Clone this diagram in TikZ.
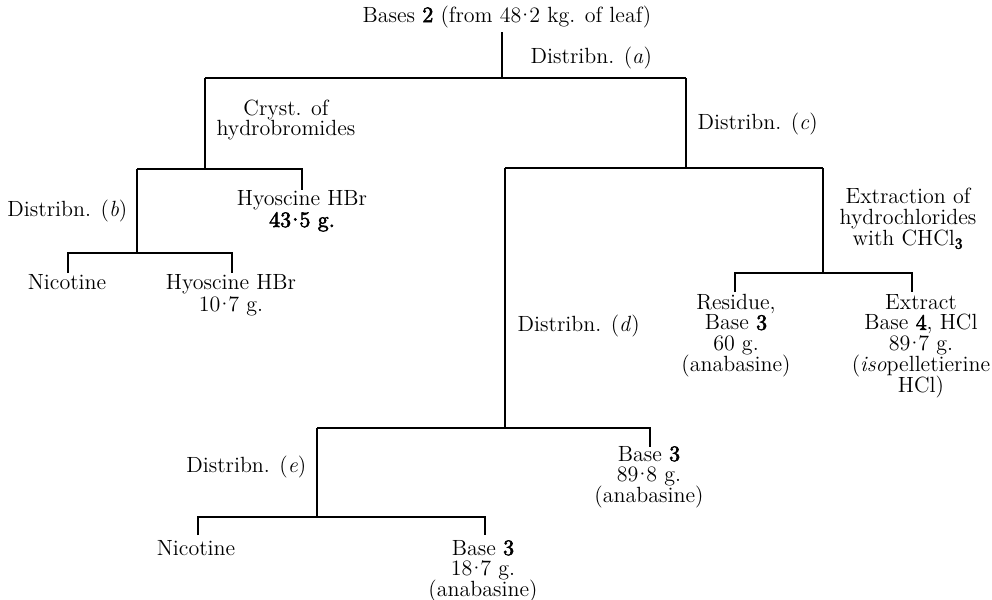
\documentclass[tikz,border=0pt]{standalone}
\usepackage{fontspec}
\newfontfamily\fbold{lmroman10-regular}[Extension=.otf,FakeBold=2.5]
\newcommand\bnum[1]{{\fbold #1}}
\newcommand\ctext[1]{\vtop{\lineskiplimit=-20pt\relax\lineskip=0pt\relax\halign{\hfil##\hfil\cr#1\crcr}}}
\newcommand\decpt{\kern-0.2em·\kern-0.2em}
\begin{document}
\begin{tikzpicture}[x=0.5pt,y=-0.5pt,line width=0.7pt,
  lbl/.style={inner sep=0pt,font=\fontsize{11}{10.4}\selectfont},
  pitch/.style={font=\fontsize{11}{#1}\selectfont}]
\useasboundingbox (0,0) rectangle (992,600);
% text
\node[lbl,anchor=base] (root) at (507,22) {Bases \bnum{2} (from 48\decpt2 kg. of leaf)};
\node[lbl,anchor=base west] (da) at (530,63) {Distribn. (\textit{a})};
\node[lbl,pitch=10,anchor=base] (cryst) at (286,115) {\ctext{Cryst. of\cr hydrobromides}};
\node[lbl,anchor=base west] (dc) at (697,129) {Distribn. (\textit{c})};
\node[lbl,pitch=11,anchor=base] (hy1) at (302,205) {\ctext{Hyoscine HBr\cr \bnum{43\decpt5 g.}}};
\node[lbl,anchor=base east] (db) at (128,216) {Distribn. (\textit{b})};
\node[lbl,anchor=base] (nic1) at (67,289) {Nicotine};
\node[lbl,pitch=11,anchor=base] (hy2) at (231,289) {\ctext{Hyoscine HBr\cr 10\decpt7 g.}};
\node[lbl,pitch=10.6,anchor=base] (ext) at (908,203) {\ctext{Extraction of\cr hydrochlorides\cr with CHCl\textsubscript{\bnum{3}}}};
\node[lbl,anchor=base west] (dd) at (517,331) {Distribn. (\textit{d})};
\node[lbl,anchor=base] (res) at (736,309) {\ctext{Residue,\cr Base \bnum{3}\cr 60 g.\cr (anabasine)}};
\node[lbl,anchor=base] (extr) at (921,309) {\ctext{Extract\cr Base \bnum{4}, HCl\cr 89\decpt7 g.\cr (\textit{iso}pelletierine\cr HCl)}};
\node[lbl,anchor=base] (b3a) at (649,461) {\ctext{Base \bnum{3}\cr 89\decpt8 g.\cr (anabasine)}};
\node[lbl,anchor=base east] (de) at (307,472) {Distribn. (\textit{e})};
\node[lbl,anchor=base] (nic2) at (196,555) {Nicotine};
\node[lbl,anchor=base] (b3b) at (483,555) {\ctext{Base \bnum{3}\cr 18\decpt7 g.\cr (anabasine)}};
% junctions
\coordinate (r0) at (502,32);  \coordinate (j0) at (502,78);
\coordinate (jL) at (205,78);  \coordinate (jR) at (686,78);
\coordinate (jL2) at (205,169); \coordinate (jLb) at (137,169);
\coordinate (jLr) at (302,169); \coordinate (tLr) at (302,190);
\coordinate (jLb2) at (137,253); \coordinate (jLl) at (68,253);
\coordinate (jLrr) at (232,253); \coordinate (tLl) at (68,273);
\coordinate (tLrr) at (232,273);
\coordinate (jR2) at (686,168); \coordinate (jM) at (505,168);
\coordinate (jRr) at (823,168); \coordinate (jRr2) at (823,273);
\coordinate (jRl) at (735,273); \coordinate (jRrr) at (912,273);
\coordinate (tRl) at (735,292); \coordinate (tRr) at (912,292);
\coordinate (jM2) at (505,428); \coordinate (jMl) at (317,428);
\coordinate (jMr) at (650,428); \coordinate (tMr) at (650,447);
\coordinate (jMl2) at (317,517); \coordinate (jBl) at (198,517);
\coordinate (jBr) at (485,517); \coordinate (tBl) at (198,535);
\coordinate (tBr) at (485,535);
% connectors
\draw (r0) -- (j0);
\draw (jL) -- (jR);
\draw (jL) -- (jL2);
\draw (jLb) -- (jLr) -- (tLr);
\draw (jLb) -- (jLb2);
\draw (tLl) -- (jLl) -- (jLrr) -- (tLrr);
\draw (jR) -- (jR2);
\draw (jM) -- (jRr);
\draw (jRr) -- (jRr2);
\draw (tRl) -- (jRl) -- (jRrr) -- (tRr);
\draw (jM) -- (jM2);
\draw (jMl) -- (jMr) -- (tMr);
\draw (jMl) -- (jMl2);
\draw (tBl) -- (jBl) -- (jBr) -- (tBr);
\end{tikzpicture}
\end{document}
